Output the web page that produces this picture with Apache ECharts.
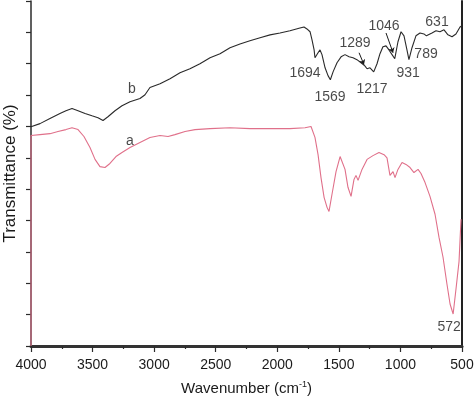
<!DOCTYPE html>
<html>
<head>
<meta charset="utf-8">
<script src="https://cdn.jsdelivr.net/npm/echarts@6/dist/echarts.min.js"></script>
<style>
  html, body { margin: 0; padding: 0; background: #fff; }
  #chart { width: 474px; height: 397px; }
</style>
</head>
<body>
<div id="chart"></div>
<script>
// curve b (black)
const wnB = [4000,3927,3846,3765,3716,3667,3618,3561,3505,3456,3415,3375,3318,3261,3196,3115,3074,3034,2952,2871,
  2790,2709,2628,2546,2465,2384,2303,2222,2140,2059,1978,1897,1816,1783,1759,1734,1718,1701,1694,1669,
  1653,1637,1612,1588,1569,1547,1515,1482,1450,1417,1385,1353,1320,1289,1271,1247,1231,1217,1190,1166,
  1142,1117,1093,1068,1046,1020,995,971,947,931,906,874,841,809,789,744,711,679,646,614,581,549,516,500];
const trB = [69.9,70.9,72.5,74.1,75.0,75.7,75.0,74.1,73.4,72.8,71.9,73.1,75.0,76.6,77.9,78.9,80.1,82.4,83.6,85.2,
  87.1,88.4,90.0,91.9,93.2,95.1,96.3,97.3,98.3,99.2,99.8,100.5,101.4,101.7,101.1,100.2,97.6,94.4,91.9,93.5,
  94.4,92.9,88.7,86.2,84.9,87.4,90.3,92.2,92.9,92.2,91.9,91.3,90.3,89.3,88.4,88.7,88.1,87.4,90.0,93.2,
  95.4,95.7,94.4,92.9,91.6,97.0,100.2,98.9,94.4,91.3,95.1,98.9,99.8,99.5,98.9,99.8,100.5,100.2,100.8,99.2,98.6,99.5,101.7,102.1];

// curve a (pink)
const wnA = [4000,4000,3927,3846,3781,3716,3667,3618,3570,3521,3480,3440,3399,3359,3310,3261,3196,3115,3034,2952,
  2887,2831,2749,2668,2546,2384,2222,2059,1897,1775,1726,1694,1669,1645,1620,1596,1580,1556,1523,1490,
  1474,1450,1426,1401,1377,1361,1344,1312,1271,1223,1174,1133,1109,1085,1060,1044,1020,987,955,922,
  890,857,833,800,760,719,687,654,622,597,572,549,524,508];
const trA = [0,67.1,67.4,67.7,68.4,69.0,69.6,69.0,66.8,63.3,59.5,57.2,56.9,58.2,60.4,61.7,63.3,64.9,66.5,67.1,
  66.8,67.4,68.4,69.0,69.3,69.6,69.3,69.3,69.3,69.6,70.0,66.5,61.0,53.7,47.4,44.2,42.9,48.3,55.6,60.4,
  61.0,56.3,50.6,47.7,53.1,54.4,52.8,56.3,59.5,60.7,61.7,61.0,60.0,54.4,55.6,53.7,56.3,58.5,57.9,56.9,
  55.3,56.3,55.0,52.1,47.7,42.0,34.7,28.3,19.7,13.4,10.2,18.1,27.0,40.4];

// annotations
const labelText = ['b','a','1694','1569','1289','1217','1046','931','789','631','572'];
const labelX = [3180,3196,1775,1572,1369,1231,1133,938,792,703,605];
const labelY = [82.0,65.2,87.1,79.5,96.7,82.0,102.1,87.1,93.2,103.3,6.0];
const arrowFrom = [[1336,93.5],[1117,99.8]];
const arrowTo = [[1296,89.7],[1060,93.5]];

const xTicks = [4000,3500,3000,2500,2000,1500,1000,500];

const font = 'Liberation Sans, Arial, sans-serif';
const axisColor = '#2b2b2b';

const chart = echarts.init(document.getElementById('chart'));

const zip = (xs, ys) => xs.map((x, i) => [x, ys[i]]);

chart.setOption({
  animation: false,
  grid: { left: 31, right: 12, top: 1, bottom: 51, containLabel: false, outerBoundsMode: 'none' },
  xAxis: [
    {
      type: 'value',
      min: 500, max: 4000, interval: 500,
      inverse: true,
      position: 'bottom',
      axisLine: { lineStyle: { color: axisColor, width: 1.5 } },
      axisTick: { show: true, inside: false, length: 6, lineStyle: { color: axisColor, width: 1.2 } },
      minorTick: { show: true, splitNumber: 2, length: 3, lineStyle: { color: axisColor, width: 1.2 } },
      splitLine: { show: false },
      axisLabel: {
        color: '#1a1a1a', fontSize: 14, fontFamily: font, margin: 12,
        formatter: v => xTicks.includes(v) ? String(v) : ''
      },
      name: '{n|Wavenumber (cm}{s|-1}{n|)}',
      nameLocation: 'middle',
      nameGap: 34,
      nameTextStyle: {
        rich: {
          n: { fontSize: 15, fontFamily: font, color: '#1a1a1a', lineHeight: 18 },
          s: { fontSize: 9, fontFamily: font, color: '#1a1a1a', verticalAlign: 'top', lineHeight: 18 }
        }
      }
    },
    {
      type: 'value',
      min: 500, max: 4000, inverse: true,
      position: 'top',
      axisLine: { show: true, lineStyle: { color: '#333', width: 3 } },
      axisTick: { show: false },
      axisLabel: { show: false },
      splitLine: { show: false }
    }
  ],
  yAxis: [
    {
      type: 'value',
      min: 0, max: 110, interval: 10,
      position: 'left',
      axisLine: { show: true, lineStyle: { color: axisColor, width: 1.5 } },
      axisTick: { show: true, inside: false, length: 5, lineStyle: { color: axisColor, width: 1.2 } },
      axisLabel: { show: false },
      splitLine: { show: false },
      name: 'Transmittance (%)',
      nameLocation: 'middle',
      nameRotate: 90,
      nameGap: 12,
      nameTextStyle: { fontSize: 17, fontFamily: font, color: '#1a1a1a' }
    },
    {
      type: 'value',
      min: 0, max: 110,
      position: 'right',
      axisLine: { show: true, lineStyle: { color: '#222', width: 2 } },
      axisTick: { show: false },
      axisLabel: { show: false },
      splitLine: { show: false }
    }
  ],
  series: [
    {
      name: 'b',
      type: 'line',
      data: zip(wnB, trB),
      symbol: 'none',
      lineStyle: { color: '#2a2a2a', width: 1.1 },
      z: 3
    },
    {
      name: 'a',
      type: 'line',
      data: zip(wnA, trA),
      symbol: 'none',
      lineStyle: { color: '#e0708a', width: 1.1 },
      z: 3
    },
    {
      name: 'labels',
      type: 'scatter',
      symbolSize: 1,
      itemStyle: { color: 'rgba(0,0,0,0)' },
      data: labelText.map((t, i) => ({ name: t, value: [labelX[i], labelY[i]] })),
      label: {
        show: true,
        position: 'inside',
        formatter: p => p.name,
        color: '#1a1a1a',
        fontFamily: font,
        fontSize: 14
      },
      z: 5
    },
    {
      name: 'arrows',
      type: 'lines',
      coordinateSystem: 'cartesian2d',
      symbol: ['none', 'arrow'],
      symbolSize: 5,
      lineStyle: { color: '#1a1a1a', width: 1, opacity: 1 },
      data: arrowFrom.map((f, i) => ({ coords: [f, arrowTo[i]] })),
      z: 5
    }
  ]
});
</script>
</body>
</html>
